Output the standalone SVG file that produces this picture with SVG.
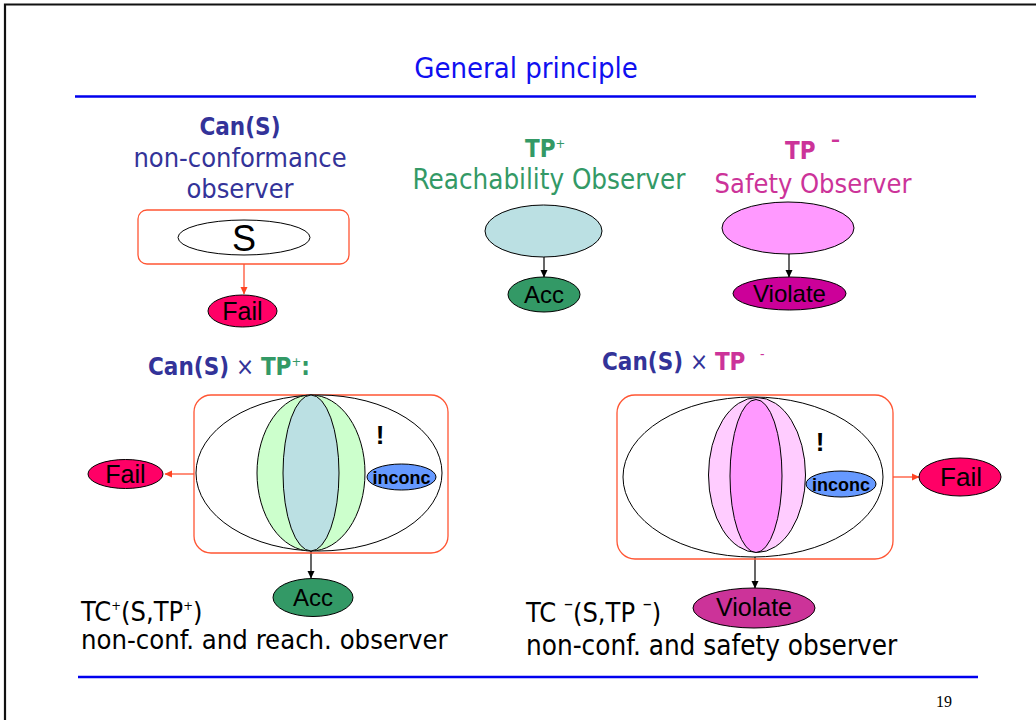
<svg xmlns="http://www.w3.org/2000/svg" width="1036" height="720" viewBox="0 0 1036 720">
  <style>
    .t { font-family: "DejaVu Sans Condensed", "DejaVu Sans", sans-serif; font-stretch: condensed; }
    .a { font-family: "Liberation Sans", Arial, sans-serif; fill: #000; }
    .blue { fill: #333399; }
    .green { fill: #339966; }
    .pink { fill: #CC3399; }
    .b { font-weight: bold; }
    .ln { stroke: #000; stroke-width: 1.2; fill: none; }
    .oln { stroke: #FF4422; stroke-width: 1.2; fill: none; }
    .box { fill: none; stroke: #FF5533; stroke-width: 1.3; }
    .ell { stroke: #000; stroke-width: 1; }
    .bang { font-family: "Liberation Sans", Arial, sans-serif; font-weight: bold; font-size: 26px; fill: #000; }
  </style>
  <defs>
    <marker id="ahBlack" markerWidth="8" markerHeight="8" refX="7" refY="4" orient="auto" markerUnits="userSpaceOnUse">
      <path d="M0,0.5 L7.5,4 L0,7.5 Z" fill="#000"/>
    </marker>
    <marker id="ahOrange" markerWidth="8" markerHeight="8" refX="7" refY="4" orient="auto" markerUnits="userSpaceOnUse">
      <path d="M0,0.5 L7.5,4 L0,7.5 Z" fill="#FF4422"/>
    </marker>
  </defs>

  <rect width="1036" height="720" fill="#fff"/>
  <!-- slide frame -->
  <path d="M5,720 L5,4.5 L1036,4.5" fill="none" stroke="#111" stroke-width="2.2"/>

  <!-- title and rules -->
  <text class="t" x="526" y="78" font-size="29" fill="#1010F0" text-anchor="middle">General principle</text>
  <line x1="75" y1="96.5" x2="976" y2="96.5" stroke="#0000EE" stroke-width="2.6"/>
  <line x1="78" y1="677" x2="978" y2="677" stroke="#0000EE" stroke-width="2.6"/>
  <text x="944" y="707" font-family="Liberation Serif, serif" font-size="16" fill="#000" text-anchor="middle">19</text>

  <!-- headings -->
  <g id="head-can">
    <text class="t b blue" x="240" y="135" font-size="24" text-anchor="middle">Can(S)</text>
    <text class="t blue" x="240" y="167" font-size="27" text-anchor="middle">non-conformance</text>
    <text class="t blue" x="240" y="198" font-size="27" text-anchor="middle">observer</text>
  </g>
  <g id="head-tpplus">
    <text class="t b green" x="525" y="157" font-size="24">TP<tspan font-size="13" baseline-shift="9" font-weight="normal">+</tspan></text>
    <text class="t green" x="549" y="189" font-size="27.5" text-anchor="middle">Reachability Observer</text>
  </g>
  <g id="head-tpminus">
    <text class="t b pink" x="785" y="159" font-size="24">TP <tspan font-size="20" baseline-shift="13" dx="8">–</tspan></text>
    <text class="t pink" x="813" y="193" font-size="27" text-anchor="middle">Safety Observer</text>
  </g>

  <!-- connectors -->
  <g id="connectors">
    <line class="oln" x1="244" y1="264" x2="244" y2="294" marker-end="url(#ahOrange)"/>
    <line class="ln" x1="544" y1="257" x2="544" y2="277" marker-end="url(#ahBlack)"/>
    <line class="ln" x1="789" y1="254" x2="789" y2="277" marker-end="url(#ahBlack)"/>
    <line class="oln" x1="194" y1="474" x2="165" y2="474" marker-end="url(#ahOrange)"/>
    <line class="ln" x1="311" y1="551" x2="311" y2="578" marker-end="url(#ahBlack)"/>
    <line class="ln" x1="357" y1="430" x2="386" y2="460" marker-end="url(#ahBlack)"/>
    <line class="oln" x1="893" y1="477" x2="919" y2="477" marker-end="url(#ahOrange)"/>
    <line class="ln" x1="755" y1="554" x2="755" y2="588" marker-end="url(#ahBlack)"/>
    <line class="ln" x1="800" y1="438" x2="827" y2="466" marker-end="url(#ahBlack)"/>
  </g>

  <!-- Can(S): non-conformance observer -->
  <g id="can-s">
    <rect class="box" x="138" y="210" width="211" height="54" rx="9"/>
    <ellipse class="ell" cx="244" cy="237.5" rx="66" ry="17.5" fill="#fff"/>
    <text class="a" x="244" y="251" font-size="36" text-anchor="middle">S</text>
  </g>
  <g id="fail-top">
    <ellipse class="ell" cx="242.5" cy="311" rx="34.5" ry="16" fill="#FF0066"/>
    <text class="a" x="242.5" y="320" font-size="25" text-anchor="middle">Fail</text>
  </g>

  <!-- TP+ reachability observer -->
  <g id="tp-plus">
    <ellipse class="ell" cx="543.5" cy="231" rx="58.5" ry="26" fill="#BBE0E3"/>
  </g>
  <g id="acc-top">
    <ellipse class="ell" cx="544" cy="294.5" rx="36" ry="17.5" fill="#339966"/>
    <text class="a" x="544" y="303" font-size="24" text-anchor="middle">Acc</text>
  </g>

  <!-- TP- safety observer -->
  <g id="tp-minus">
    <ellipse class="ell" cx="788" cy="228" rx="66" ry="26" fill="#FF99FF"/>
  </g>
  <g id="violate-top">
    <ellipse class="ell" cx="789.5" cy="293.5" rx="56.5" ry="16.5" fill="#CC0099"/>
    <text class="a" x="789.5" y="302" font-size="24" text-anchor="middle">Violate</text>
  </g>

  <!-- product Can(S) x TP+ -->
  <g id="head-prod-plus">
    <text class="t" x="148" y="375" font-size="24"><tspan class="b blue">Can(S)</tspan><tspan class="blue"> × </tspan><tspan class="b green">TP</tspan><tspan class="green" font-size="13" baseline-shift="9">+</tspan><tspan class="green b">:</tspan></text>
  </g>
  <g id="prod-plus">
    <rect class="box" x="194" y="395" width="254" height="158" rx="17"/>
    <ellipse class="ell" cx="319" cy="473" rx="123" ry="78" fill="#fff"/>
    <ellipse class="ell" cx="311" cy="473" rx="54" ry="78" fill="#CCFFCC"/>
    <ellipse class="ell" cx="311" cy="473" rx="28" ry="78" fill="#BBE0E3"/>
    <text class="bang" x="380" y="444" text-anchor="middle">!</text>
  </g>
  <g id="inconc-plus">
    <ellipse class="ell" cx="401.5" cy="477" rx="34.5" ry="13" fill="#6699FF"/>
    <text class="a b" x="401.5" y="483.5" font-size="18" text-anchor="middle">inconc</text>
  </g>
  <g id="fail-left">
    <ellipse class="ell" cx="125.5" cy="474" rx="37.5" ry="14.5" fill="#FF0066"/>
    <text class="a" x="125.5" y="483" font-size="25" text-anchor="middle">Fail</text>
  </g>
  <g id="acc-bottom">
    <ellipse class="ell" cx="313" cy="597.5" rx="40" ry="19" fill="#339966"/>
    <text class="a" x="313" y="606" font-size="24" text-anchor="middle">Acc</text>
  </g>
  <g id="label-tc-plus">
    <text class="t" x="81" y="621" font-size="27" fill="#000">TC<tspan font-size="13" baseline-shift="11">+</tspan>(S,TP<tspan font-size="13" baseline-shift="11">+</tspan>)</text>
    <text class="t" x="81" y="649" font-size="27.2" fill="#000">non-conf. and reach. observer</text>
  </g>

  <!-- product Can(S) x TP- -->
  <g id="head-prod-minus">
    <text class="t" x="602" y="370" font-size="24"><tspan class="b blue">Can(S)</tspan><tspan class="blue"> × </tspan><tspan class="b pink">TP  </tspan><tspan class="pink" font-size="14" baseline-shift="11" dx="7">-</tspan></text>
  </g>
  <g id="prod-minus">
    <rect class="box" x="617" y="395" width="276" height="164" rx="18"/>
    <ellipse class="ell" cx="753" cy="477" rx="130" ry="80" fill="#fff"/>
    <ellipse class="ell" cx="757" cy="475" rx="48.5" ry="77.5" fill="#FFCCFF"/>
    <ellipse class="ell" cx="756" cy="476" rx="26" ry="76.5" fill="#FF99FF"/>
    <text class="bang" x="820" y="451" text-anchor="middle">!</text>
  </g>
  <g id="inconc-minus">
    <ellipse class="ell" cx="841" cy="484" rx="35" ry="13" fill="#6699FF"/>
    <text class="a b" x="841" y="490.5" font-size="18" text-anchor="middle">inconc</text>
  </g>
  <g id="fail-right">
    <ellipse class="ell" cx="960" cy="477" rx="41" ry="19" fill="#FF0066"/>
    <text class="a" x="961" y="486" font-size="26" text-anchor="middle">Fail</text>
  </g>
  <g id="violate-bottom">
    <ellipse class="ell" cx="754" cy="608" rx="61" ry="20" fill="#CC3399"/>
    <text class="a" x="754" y="616" font-size="25" text-anchor="middle">Violate</text>
  </g>
  <g id="label-tc-minus">
    <text class="t" x="526" y="622" font-size="27" fill="#000">TC <tspan font-size="20" baseline-shift="12">–</tspan>(S,TP <tspan font-size="20" baseline-shift="12">–</tspan>)</text>
    <text class="t" x="526" y="655" font-size="27.6" fill="#000">non-conf. and safety observer</text>
  </g>
</svg>
